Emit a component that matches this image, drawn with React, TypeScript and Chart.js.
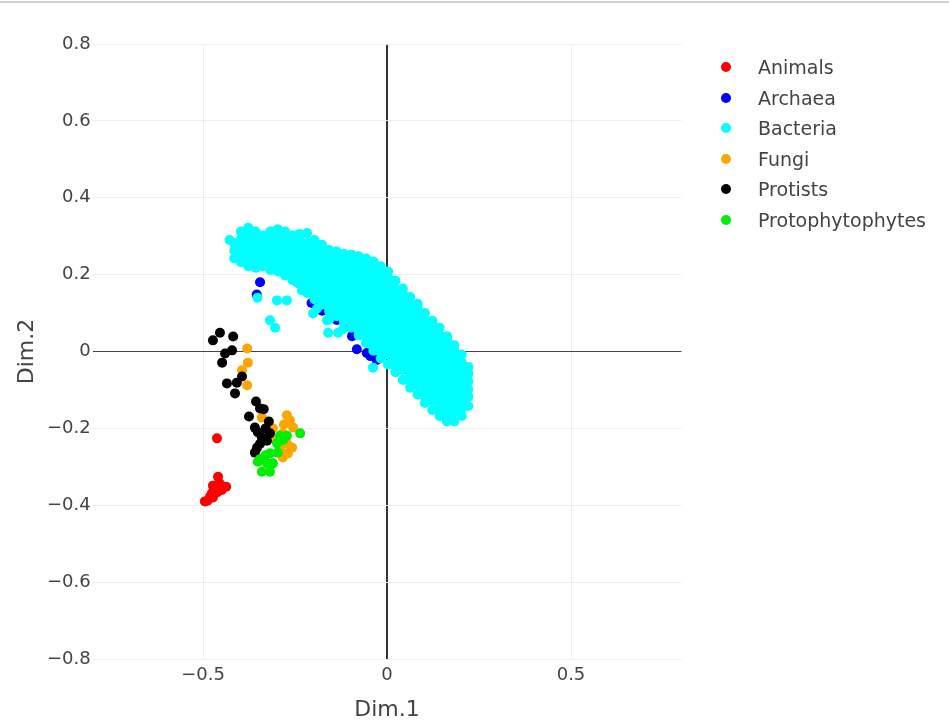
import React, { useEffect, useRef } from "react";
import { Chart, registerables } from "chart.js";

Chart.register(...registerables);

type P = [number, number];

const seriesNames = ["Animals", "Archaea", "Bacteria", "Fungi", "Protists", "Protophytophytes"];
const seriesColors = ["#ff0000", "#0000ff", "#00ffff", "#ffa500", "#000000", "#00ee00"];
const xTickValues = [-0.5, 0, 0.5];
const yTickValues = [-0.8, -0.6, -0.4, -0.2, 0, 0.2, 0.4, 0.6, 0.8];
const xTitle = "Dim.1";
const yTitle = "Dim.2";

const animals: P[] = [
  [-0.462, -0.226], [-0.459, -0.326], [-0.473, -0.349], [-0.446, -0.354], [-0.476, -0.369],
  [-0.488, -0.388], [-0.462, -0.367], [-0.449, -0.36], [-0.473, -0.38], [-0.455, -0.343],
  [-0.467, -0.357], [-0.481, -0.378], [-0.437, -0.352], [-0.495, -0.39],
];

const archaea: P[] = [
  [-0.345, 0.18], [-0.354, 0.148], [-0.205, 0.126], [-0.19, 0.118], [-0.176, 0.106],
  [-0.166, 0.116], [-0.14, 0.093], [-0.136, 0.082], [-0.115, 0.064], [-0.095, 0.04],
  [-0.087, 0.045], [-0.082, 0.006], [-0.055, -0.004], [-0.045, -0.012], [-0.028, -0.022],
  [-0.1, 0.1], [-0.05, 0.1], [0.0, 0.05], [0.05, 0.0],
];

const bacteria: P[] = [
  [-0.428, 0.29],
  [-0.415, 0.242], [-0.415, 0.262], [-0.415, 0.282],
  [-0.397, 0.232], [-0.397, 0.252], [-0.397, 0.272], [-0.397, 0.292], [-0.397, 0.312],
  [-0.387, 0.237], [-0.387, 0.267], [-0.387, 0.297],
  [-0.377, 0.222], [-0.377, 0.242], [-0.377, 0.262], [-0.377, 0.282], [-0.377, 0.302], [-0.377, 0.322],
  [-0.357, 0.218], [-0.357, 0.232], [-0.357, 0.252], [-0.357, 0.272], [-0.357, 0.292], [-0.357, 0.312],
  [-0.347, 0.227], [-0.347, 0.257], [-0.347, 0.287],
  [-0.337, 0.222], [-0.337, 0.242], [-0.337, 0.262], [-0.337, 0.282], [-0.337, 0.302],
  [-0.317, 0.212], [-0.317, 0.232], [-0.317, 0.252], [-0.317, 0.272], [-0.317, 0.292], [-0.317, 0.312],
  [-0.307, 0.222], [-0.307, 0.262], [-0.307, 0.3],
  [-0.297, 0.208], [-0.297, 0.222], [-0.297, 0.242], [-0.297, 0.262], [-0.297, 0.282], [-0.297, 0.302], [-0.297, 0.318],
  [-0.277, 0.198], [-0.277, 0.212], [-0.277, 0.232], [-0.277, 0.252], [-0.277, 0.272], [-0.277, 0.292], [-0.277, 0.312],
  [-0.267, 0.205], [-0.267, 0.245], [-0.267, 0.285],
  [-0.257, 0.186], [-0.257, 0.202], [-0.257, 0.222], [-0.257, 0.242], [-0.257, 0.262], [-0.257, 0.282], [-0.257, 0.302],
  [-0.237, 0.176], [-0.237, 0.192], [-0.237, 0.212], [-0.237, 0.232], [-0.237, 0.252], [-0.237, 0.272], [-0.237, 0.292], [-0.237, 0.306],
  [-0.227, 0.185], [-0.227, 0.225], [-0.227, 0.265],
  [-0.217, 0.152], [-0.217, 0.162], [-0.217, 0.182], [-0.217, 0.202], [-0.217, 0.222], [-0.217, 0.242], [-0.217, 0.262], [-0.217, 0.282], [-0.217, 0.308],
  [-0.197, 0.136], [-0.197, 0.152], [-0.197, 0.172], [-0.197, 0.192], [-0.197, 0.212], [-0.197, 0.232], [-0.197, 0.252], [-0.197, 0.272], [-0.197, 0.29],
  [-0.177, 0.122], [-0.177, 0.142], [-0.177, 0.162], [-0.177, 0.182], [-0.177, 0.202], [-0.177, 0.222], [-0.177, 0.242], [-0.177, 0.262], [-0.177, 0.278],
  [-0.157, 0.104], [-0.157, 0.112], [-0.157, 0.132], [-0.157, 0.152], [-0.157, 0.172], [-0.157, 0.192], [-0.157, 0.212], [-0.157, 0.232], [-0.157, 0.252], [-0.157, 0.264],
  [-0.137, 0.092], [-0.137, 0.102], [-0.137, 0.122], [-0.137, 0.142], [-0.137, 0.162], [-0.137, 0.182], [-0.137, 0.202], [-0.137, 0.222], [-0.137, 0.242], [-0.137, 0.26],
  [-0.117, 0.078], [-0.117, 0.092], [-0.117, 0.112], [-0.117, 0.132], [-0.117, 0.152], [-0.117, 0.172], [-0.117, 0.192], [-0.117, 0.212], [-0.117, 0.232], [-0.117, 0.254],
  [-0.097, 0.062], [-0.097, 0.082], [-0.097, 0.102], [-0.097, 0.122], [-0.097, 0.142], [-0.097, 0.162], [-0.097, 0.182], [-0.097, 0.202], [-0.097, 0.222], [-0.097, 0.242], [-0.097, 0.252],
  [-0.077, 0.042], [-0.077, 0.052], [-0.077, 0.072], [-0.077, 0.092], [-0.077, 0.112], [-0.077, 0.132], [-0.077, 0.152], [-0.077, 0.172], [-0.077, 0.192], [-0.077, 0.212], [-0.077, 0.232], [-0.077, 0.248],
  [-0.057, 0.022], [-0.057, 0.042], [-0.057, 0.062], [-0.057, 0.082], [-0.057, 0.102], [-0.057, 0.122], [-0.057, 0.142], [-0.057, 0.162], [-0.057, 0.182], [-0.057, 0.202], [-0.057, 0.222], [-0.057, 0.242],
  [-0.037, 0.002], [-0.037, 0.012], [-0.037, 0.032], [-0.037, 0.052], [-0.037, 0.072], [-0.037, 0.092], [-0.037, 0.112], [-0.037, 0.132], [-0.037, 0.152], [-0.037, 0.172], [-0.037, 0.192], [-0.037, 0.212], [-0.037, 0.234],
  [-0.017, -0.018], [-0.017, 0.002], [-0.017, 0.022], [-0.017, 0.042], [-0.017, 0.062], [-0.017, 0.082], [-0.017, 0.102], [-0.017, 0.122], [-0.017, 0.142], [-0.017, 0.162], [-0.017, 0.182], [-0.017, 0.202], [-0.017, 0.222],
  [0.003, -0.034], [0.003, -0.008], [0.003, 0.012], [0.003, 0.032], [0.003, 0.052], [0.003, 0.072], [0.003, 0.092], [0.003, 0.112], [0.003, 0.132], [0.003, 0.152], [0.003, 0.172], [0.003, 0.192], [0.003, 0.208],
  [0.023, -0.054], [0.023, -0.038], [0.023, -0.018], [0.023, 0.002], [0.023, 0.022], [0.023, 0.042], [0.023, 0.062], [0.023, 0.082], [0.023, 0.102], [0.023, 0.122], [0.023, 0.142], [0.023, 0.162], [0.023, 0.184],
  [0.043, -0.074], [0.043, -0.048], [0.043, -0.028], [0.043, -0.008], [0.043, 0.012], [0.043, 0.032], [0.043, 0.052], [0.043, 0.072], [0.043, 0.092], [0.043, 0.112], [0.043, 0.132], [0.043, 0.152], [0.043, 0.164],
  [0.063, -0.094], [0.063, -0.078], [0.063, -0.058], [0.063, -0.038], [0.063, -0.018], [0.063, 0.002], [0.063, 0.022], [0.063, 0.042], [0.063, 0.062], [0.063, 0.082], [0.063, 0.102], [0.063, 0.122], [0.063, 0.142],
  [0.083, -0.112], [0.083, -0.088], [0.083, -0.068], [0.083, -0.048], [0.083, -0.028], [0.083, -0.008], [0.083, 0.012], [0.083, 0.032], [0.083, 0.052], [0.083, 0.072], [0.083, 0.092], [0.083, 0.112], [0.083, 0.124],
  [0.103, -0.134], [0.103, -0.118], [0.103, -0.098], [0.103, -0.078], [0.103, -0.058], [0.103, -0.038], [0.103, -0.018], [0.103, 0.002], [0.103, 0.022], [0.103, 0.042], [0.103, 0.062], [0.103, 0.082], [0.103, 0.1],
  [0.123, -0.152], [0.123, -0.128], [0.123, -0.108], [0.123, -0.088], [0.123, -0.068], [0.123, -0.048], [0.123, -0.028], [0.123, -0.008], [0.123, 0.012], [0.123, 0.032], [0.123, 0.052], [0.123, 0.072], [0.123, 0.08],
  [0.143, -0.168], [0.143, -0.158], [0.143, -0.138], [0.143, -0.118], [0.143, -0.098], [0.143, -0.078], [0.143, -0.058], [0.143, -0.038], [0.143, -0.018], [0.143, 0.002], [0.143, 0.022], [0.143, 0.042], [0.143, 0.062],
  [0.163, -0.182], [0.163, -0.168], [0.163, -0.148], [0.163, -0.128], [0.163, -0.108], [0.163, -0.088], [0.163, -0.068], [0.163, -0.048], [0.163, -0.028], [0.163, -0.008], [0.163, 0.012], [0.163, 0.032], [0.163, 0.04],
  [0.183, -0.182], [0.183, -0.158], [0.183, -0.138], [0.183, -0.118], [0.183, -0.098], [0.183, -0.078], [0.183, -0.058], [0.183, -0.038], [0.183, -0.018], [0.183, 0.002], [0.183, 0.016],
  [0.203, -0.168], [0.203, -0.148], [0.203, -0.128], [0.203, -0.108], [0.203, -0.088], [0.203, -0.068], [0.203, -0.048], [0.203, -0.028], [0.203, -0.008],
  [0.221, -0.142], [0.221, -0.118], [0.221, -0.098], [0.221, -0.078], [0.221, -0.058], [0.221, -0.04],
  [-0.352, 0.14], [-0.299, 0.133], [-0.272, 0.133], [-0.231, 0.159], [-0.318, 0.081],
  [-0.304, 0.062], [-0.201, 0.099], [-0.163, 0.081], [-0.16, 0.049], [-0.133, 0.049],
  [-0.155, 0.086], [-0.038, -0.042], [-0.245, 0.18], [-0.19, 0.112], [-0.12, 0.058],
];

const fungi: P[] = [
  [-0.38, 0.008], [-0.378, -0.029], [-0.394, -0.049], [-0.38, -0.088], [-0.272, -0.166],
  [-0.264, -0.179], [-0.255, -0.198], [-0.283, -0.213], [-0.272, -0.239], [-0.269, -0.265],
  [-0.283, -0.276], [-0.258, -0.25], [-0.34, -0.172], [-0.31, -0.2], [-0.28, -0.19],
  [-0.3, -0.23], [-0.29, -0.255],
];

const protists: P[] = [
  [-0.473, 0.029], [-0.454, 0.049], [-0.418, 0.039], [-0.44, -0.005], [-0.421, 0.003],
  [-0.448, -0.029], [-0.435, -0.083], [-0.413, -0.109], [-0.408, -0.081], [-0.394, -0.065],
  [-0.356, -0.13], [-0.345, -0.148], [-0.335, -0.15], [-0.375, -0.169], [-0.321, -0.182],
  [-0.359, -0.198], [-0.34, -0.224], [-0.353, -0.25], [-0.326, -0.232], [-0.318, -0.213],
  [-0.351, -0.21], [-0.359, -0.263], [-0.345, -0.24], [-0.33, -0.2],
];

const protophytophytes: P[] = [
  [-0.236, -0.213], [-0.291, -0.219], [-0.272, -0.219], [-0.299, -0.239], [-0.318, -0.265],
  [-0.297, -0.263], [-0.351, -0.287], [-0.326, -0.291], [-0.34, -0.313], [-0.318, -0.313],
  [-0.31, -0.291], [-0.282, -0.23], [-0.33, -0.27], [-0.345, -0.28],
];

const seriesData: P[][] = [animals, archaea, bacteria, fungi, protists, protophytophytes];

const FONT = "'DejaVu Sans', Verdana, sans-serif";
const TEXT = "#444444";

function fmt(v: number): string {
  if (Math.abs(v) < 1e-9) return "0";
  return (v < 0 ? "\u2212" : "") + String(Math.abs(Math.round(v * 100) / 100));
}

export default function App() {
  const ref = useRef<HTMLCanvasElement | null>(null);

  useEffect(() => {
    if (!ref.current) return;
    const chart = new Chart(ref.current, {
      type: "scatter",
      data: {
        datasets: seriesData.map((pts, i) => ({
          label: seriesNames[i],
          data: pts.map(([x, y]) => ({ x, y })),
          backgroundColor: seriesColors[i],
          borderWidth: 0,
          pointRadius: 5,
          pointHoverRadius: 5,
          order: seriesNames.length - i,
        })),
      },
      options: {
        responsive: false,
        animation: false,
        events: [],
        layout: { padding: { left: 0, right: 267.6, top: 44, bottom: 0 } },
        plugins: { legend: { display: false }, tooltip: { enabled: false } },
        scales: {
          x: {
            type: "linear",
            min: -0.8,
            max: 0.8,
            afterFit: (s: any) => { s.height = 64; },
            afterBuildTicks: (s: any) => { s.ticks = xTickValues.map((v) => ({ value: v })); },
            ticks: {
              color: TEXT,
              font: { family: FONT, size: 18 },
              padding: 6,
              callback: (v: any) => fmt(Number(v)),
            },
            grid: {
              drawTicks: false,
              color: (c: any) => (c.tick && c.tick.value === 0 ? "#333333" : "#eeeeee"),
              lineWidth: (c: any) => (c.tick && c.tick.value === 0 ? 2 : 1),
            },
            border: { display: false },
            title: {
              display: true,
              text: xTitle,
              color: TEXT,
              font: { family: FONT, size: 22 },
              padding: { top: 0, bottom: 0 },
            },
          },
          y: {
            type: "linear",
            min: -0.8,
            max: 0.8,
            afterFit: (s: any) => { s.width = 92.6; },
            afterBuildTicks: (s: any) => { s.ticks = yTickValues.map((v) => ({ value: v })); },
            ticks: {
              color: TEXT,
              font: { family: FONT, size: 18 },
              padding: 2,
              callback: (v: any) => fmt(Number(v)),
            },
            grid: {
              drawTicks: false,
              color: (c: any) => (c.tick && c.tick.value === 0 ? "#444444" : "#eeeeee"),
              lineWidth: 1,
            },
            border: { display: false },
            title: {
              display: true,
              text: yTitle,
              color: TEXT,
              font: { family: FONT, size: 22 },
              padding: { top: 14, bottom: 0 },
            },
          },
        },
      },
    });
    return () => chart.destroy();
  }, []);

  return (
    <div style={{ position: "absolute", left: 0, top: 0, width: 949, height: 723, background: "#fff", overflow: "hidden" }}>
      <div style={{ position: "absolute", left: 0, top: 1, width: 949, height: 2, background: "#cfcfcf" }} />
      <canvas ref={ref} width={949} height={723} style={{ position: "absolute", left: 0, top: 0, width: 949, height: 723 }} />
      {seriesNames.map((name, i) => (
        <div
          key={name}
          style={{
            position: "absolute",
            left: 721,
            top: 67 + i * 30.5 - 12,
            height: 24,
            display: "flex",
            alignItems: "center",
            fontFamily: FONT,
            fontSize: 19,
            color: TEXT,
            whiteSpace: "nowrap",
          }}
        >
          <span style={{ display: "inline-block", width: 10, height: 10, borderRadius: 5, background: seriesColors[i], marginRight: 27 }} />
          <span>{name}</span>
        </div>
      ))}
    </div>
  );
}
